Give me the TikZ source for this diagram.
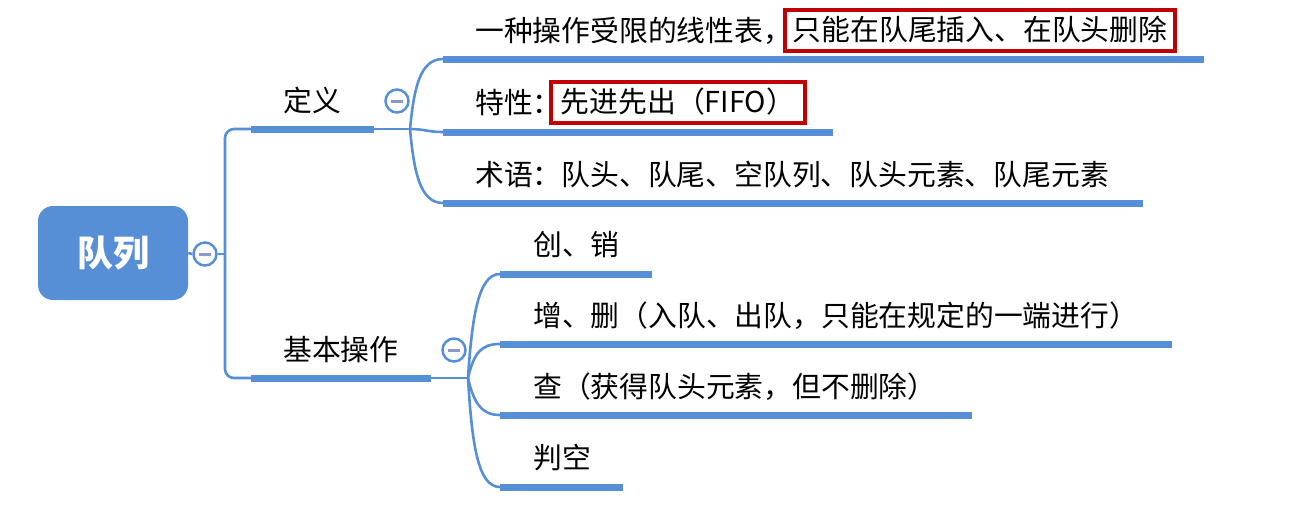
\documentclass[tikz,border=0pt]{standalone}
\usepackage{fontspec}
\setmainfont{Noto Sans CJK SC}
\definecolor{mblue}{RGB}{86,143,214}
\definecolor{mred}{RGB}{192,0,0}
\definecolor{mminus}{RGB}{142,152,200}
\tikzset{
  conn/.style={mblue,line width=2.6pt},
  uline/.style={mblue,line width=7pt},
  lbl/.style={anchor=west,inner sep=0pt,font=\fontsize{28.8}{32}\selectfont,text height=24pt,text depth=4pt},
  redbox/.style={draw=mred,line width=4.5pt,inner sep=0pt,font=\fontsize{28.8}{32}\selectfont,text height=24pt,text depth=4pt,minimum height=41pt},
  fold/.style={circle,draw=mblue,line width=2.5pt,fill=white,minimum size=23pt,inner sep=0pt,
    path picture={\draw[mminus,line width=3pt] ([xshift=-6pt]path picture bounding box.center) -- ([xshift=6pt]path picture bounding box.center);}},
  rootbox/.style={fill=mblue,rounded corners=15pt,minimum width=150pt,minimum height=94pt,text=white,font=\fontsize{36}{40}\selectfont\bfseries,inner sep=0pt}
}
\begin{document}
\begin{tikzpicture}[x=1pt,y=-1pt]
\useasboundingbox (0,0) rectangle (1289,522);
% root
\node[rootbox] (root) at (113,253) {队列};
% coordinates
\coordinate (tk) at (225,254);
\coordinate (tkA) at (225,129);
\coordinate (tkB) at (225,378);
\coordinate (u0a) at (251,129); \coordinate (u0b) at (374,129);
\coordinate (b0) at (410,129);
\coordinate (u4a) at (251,378); \coordinate (u4b) at (431,378);
\coordinate (b4) at (468,378);
\coordinate (u1a) at (443,59); \coordinate (u1b) at (1204,59);
\coordinate (u2a) at (443,132); \coordinate (u2b) at (833,132);
\coordinate (u3a) at (443,203); \coordinate (u3b) at (1143,203);
\coordinate (u5a) at (500,274); \coordinate (u5b) at (652,274);
\coordinate (u6a) at (500,344); \coordinate (u6b) at (1172,344);
\coordinate (u7a) at (500,415); \coordinate (u7b) at (972,415);
\coordinate (u8a) at (500,487); \coordinate (u8b) at (623,487);
% trunk
\draw[conn,rounded corners=9pt] (u0a) -- (tkA) -- (tkB) -- (u4a);
% branches
\draw[conn] (u0b) -- (b0);
\draw[conn] (u4b) -- (b4);
\draw[conn] (b0) .. controls (414,88) and (420,59) .. (u1a);
\draw[conn] (b0) .. controls (424,129) and (428,132) .. (u2a);
\draw[conn] (b0) .. controls (414,172) and (420,203) .. (u3a);
\draw[conn] (b4) .. controls (472,318) and (478,274) .. (u5a);
\draw[conn] (b4) .. controls (474,352) and (482,344) .. (u6a);
\draw[conn] (b4) .. controls (474,404) and (482,415) .. (u7a);
\draw[conn] (b4) .. controls (472,445) and (478,487) .. (u8a);
% underlines
\foreach \i in {0,...,8} {\draw[uline] (u\i a) -- (u\i b);}
% fold circles
\node[fold] (c0) at (205,254) {};
\draw[conn] (root.east) -- (c0.west);
\draw[conn] (c0.east) -- (tk);
\node[fold] (c1) at (397,101) {};
\node[fold] (c2) at (454,350) {};
% labels
\node[lbl] (def) at (283,101) {定义};
\node[lbl] (ops) at (283,350) {基本操作};
\node[lbl] (t1) at (475,31) {一种操作受限的线性表，};
\node[redbox,minimum width=390pt] (r1) at (980,30.5) {只能在队尾插入、在队头删除};
\node[lbl] (t2) at (475,103) {特性：};
\node[redbox,minimum width=254pt] (r2) at (678,102.5) {先进先出（FIFO）};
\node[lbl] (t3) at (475,175) {术语：队头、队尾、空队列、队头元素、队尾元素};
\node[lbl] (t5) at (533,245) {创、销};
\node[lbl] (t6) at (533,316) {增、删（入队、出队，只能在规定的一端进行）};
\node[lbl] (t7) at (533,387) {查（获得队头元素，但不删除）};
\node[lbl] (t8) at (533,458) {判空};
\end{tikzpicture}
\end{document}
